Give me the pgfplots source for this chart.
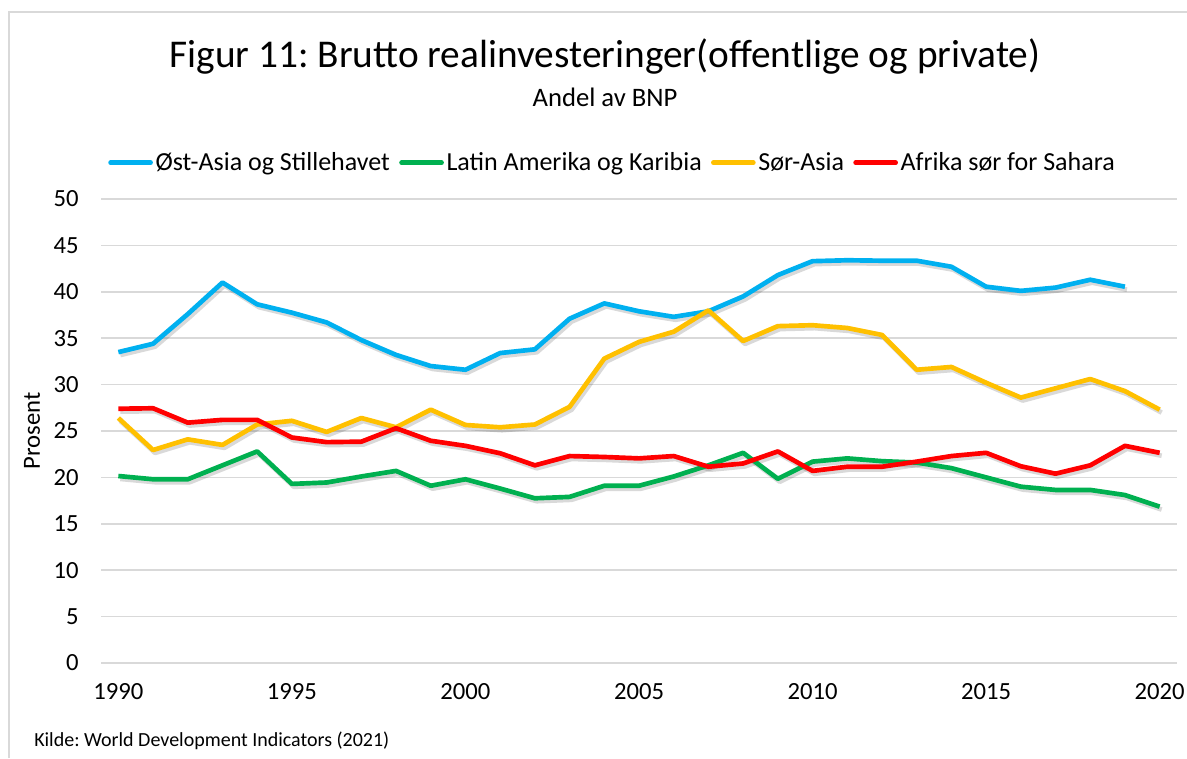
\documentclass[border=0pt]{standalone}
\usepackage{fontspec}
\setmainfont{Carlito}
\usepackage{pgfplots}
\usepackage{pgfplotstable}
\pgfplotsset{compat=1.18}
\frenchspacing

\definecolor{eastblue}{HTML}{00B0F0}
\definecolor{latgreen}{HTML}{00B050}
\definecolor{southyel}{HTML}{FFC000}
\definecolor{afrred}{HTML}{FF0000}
\definecolor{gridgray}{HTML}{D9D9D9}

% andel av BNP, prosent
\pgfplotstableread{
year east latin south africa
1990 33.5 20.15 26.4 27.4
1991 34.4 19.8 22.95 27.45
1992 37.6 19.8 24.1 25.9
1993 41.0 21.3 23.5 26.2
1994 38.65 22.8 25.7 26.2
1995 37.75 19.3 26.1 24.3
1996 36.7 19.45 24.9 23.8
1997 34.8 20.1 26.4 23.85
1998 33.2 20.7 25.4 25.3
1999 32.0 19.1 27.3 23.95
2000 31.6 19.8 25.65 23.4
2001 33.4 18.8 25.4 22.6
2002 33.8 17.75 25.7 21.3
2003 37.1 17.9 27.6 22.3
2004 38.75 19.1 32.8 22.2
2005 37.9 19.1 34.6 22.05
2006 37.3 20.1 35.7 22.3
2007 37.9 21.3 38.0 21.15
2008 39.5 22.65 34.7 21.5
2009 41.8 19.85 36.3 22.8
2010 43.3 21.7 36.4 20.7
2011 43.4 22.05 36.1 21.15
2012 43.35 21.75 35.35 21.15
2013 43.35 21.6 31.6 21.7
2014 42.7 21.0 31.9 22.3
2015 40.55 20.0 30.2 22.65
2016 40.1 19.0 28.6 21.2
2017 40.45 18.65 29.6 20.4
2018 41.3 18.65 30.6 21.3
2019 40.55 18.1 29.3 23.4
2020 nan 16.85 27.3 22.65
}\invtab

\begin{document}
\begin{tikzpicture}
\useasboundingbox (0,0) rectangle (890.25pt,568.5pt);
% ramme
\draw[gridgray, line width=1.2pt] (6.75pt,0pt) -- (6.75pt,559.5pt) -- (890.25pt,559.5pt);

\node[anchor=base, inner sep=0pt, font=\fontsize{29.5}{34}\selectfont] at (453.75pt,517.5pt)
  {Figur 11: Brutto realinvesteringer(offentlige og private)};
\node[anchor=base, inner sep=0pt, font=\fontsize{20}{24}\selectfont] at (453.75pt,488.25pt)
  {Andel av BNP};
\node[rotate=90, inner sep=0pt, font=\fontsize{18.5}{22}\selectfont] at (24pt,245.25pt) {Prosent};
\node[anchor=base west, inner sep=0pt, font=\fontsize{15}{18}\selectfont] at (25.5pt,9pt)
  {Kilde: World Development Indicators (2021)};

\begin{axis}[
    at={(75.75pt,71.25pt)}, anchor=south west,
    scale only axis,
    width=807pt, height=348pt,
    xmin=1989.5, xmax=2020.5,
    ymin=0, ymax=50,
    xtick={1990,1995,...,2020},
    ytick={0,5,...,50},
    axis line style={draw=none},
    tick style={draw=none},
    ymajorgrids,
    major grid style={gridgray, line width=1.1pt},
    /pgf/number format/assume math mode=true,
    /pgf/number format/1000 sep={},
    ticklabel style={font=\fontsize{18.5}{22}\selectfont, inner sep=0pt},
    yticklabel style={anchor=east, xshift=-16.5pt},
    xticklabel style={anchor=north, yshift=-15pt},
    clip=false,
    legend columns=4,
    legend style={at={(0.0065,1.078)}, anchor=west, draw=none, fill=none,
      inner sep=0pt, font=\fontsize{19.5}{23}\selectfont,
      /tikz/every even column/.append style={column sep=5pt}},
    legend image code/.code={\draw[#1, line cap=round] (0pt,0pt) -- (30pt,0pt);},
    every axis plot/.append style={line width=3.5pt, line join=round},
]
\foreach \s in {east,latin,south,africa}{
  \addplot[black, opacity=0.15, xshift=1.5pt, yshift=-2.2pt, forget plot] table[x=year,y=\s] {\invtab};
}
\addplot[eastblue] table[x=year,y=east] {\invtab};
\addlegendentry{Øst-Asia og Stillehavet}
\addplot[latgreen] table[x=year,y=latin] {\invtab};
\addlegendentry{Latin Amerika og Karibia}
\addplot[southyel] table[x=year,y=south] {\invtab};
\addlegendentry{Sør-Asia}
\addplot[afrred] table[x=year,y=africa] {\invtab};
\addlegendentry{Afrika sør for Sahara}
\end{axis}
\end{tikzpicture}
\end{document}
